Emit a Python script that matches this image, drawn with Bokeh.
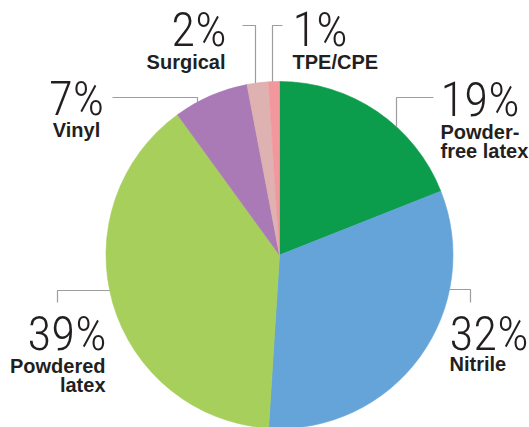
import math
from bokeh.plotting import figure
from bokeh.models import Range1d, ColumnDataSource
from bokeh.core.properties import value
from bokeh.embed import file_html
from bokeh.resources import INLINE

# ---- data ----
categories = ["Powder-free latex", "Nitrile", "Powdered latex", "Vinyl", "Surgical", "TPE/CPE"]
shares = [19, 32, 39, 7, 2, 1]
colors = ["#0b9d4b", "#64a4d8", "#a7cf5b", "#aa7ab6", "#deb2b0", "#f2979b"]
label_lines = [["Powder-", "free latex"], ["Nitrile"], ["Powdered", "latex"], ["Vinyl"], ["Surgical"], ["TPE/CPE"]]

# ---- layout (reference pixel coordinates, y downwards) ----
CX, CY, R = 279.0, 254.5, 173.5
layout = [
    dict(nx=440, ny=117, align="left",   ly=[139, 158], outer=(433, 97),  elbow=(396, 97),  seg="v"),
    dict(nx=449, ny=351, align="left",   ly=[371],      outer=(470, 302), elbow=(470, 289), seg="h"),
    dict(nx=106, ny=351, align="right",  ly=[373, 392], outer=(57, 302),  elbow=(57, 290),  seg="h"),
    dict(nx=76,  ny=116, align="center", ly=[137],      outer=(112, 97),  elbow=(197, 97),  seg="v"),
    dict(nx=226, ny=47,  align="right",  ly=[69],       outer=(242, 25),  elbow=(255, 25),  seg="v"),
    dict(nx=292, ny=47,  align="left",   ly=[69],       outer=(282, 25),  elbow=(272, 25),  seg="v"),
]

NUM_FONT = value("'Roboto Condensed Light', 'Roboto Condensed', sans-serif")
LAB_FONT = value("Liberation Sans")
NUM_SIZE = 49
LAB_SIZE = 20
BASE_FIX = 0.375  # renderer places alphabetic baseline this many em lower
INK = "#231f20"
LEADER = "#9d9d9d"

p = figure(width=529, height=427, x_range=Range1d(0, 529), y_range=Range1d(-427, 0),
           output_backend="svg", toolbar_location=None, x_axis_type=None, y_axis_type=None,
           min_border=0)
p.outline_line_color = None
p.grid.visible = False
p.background_fill_color = "white"
p.border_fill_color = "white"

# wedges: clockwise from 12 o'clock
total = float(sum(shares))
starts, ends = [], []
cum = 0.0
for s in shares:
    starts.append(math.pi / 2 - 2 * math.pi * (cum + s) / total)
    ends.append(math.pi / 2 - 2 * math.pi * cum / total)
    cum += s
src = ColumnDataSource(dict(cat=categories, share=shares, color=colors, start=starts, end=ends))
p.wedge(x=CX, y=-CY, radius=R, start_angle="start", end_angle="end", direction="anticlock",
        fill_color="color", line_color="color", line_width=0.6, source=src)

# leader lines
xs, ys = [], []
for L in layout:
    ox, oy = L["outer"]
    ex, ey = L["elbow"]
    if L["seg"] == "v":
        d = math.sqrt(max(R * R - (ex - CX) ** 2, 0))
        fx, fy = ex, (CY - d if ey < CY else CY + d)
    else:
        d = math.sqrt(max(R * R - (ey - CY) ** 2, 0))
        fx, fy = (CX + d if ex > CX else CX - d), ey
    xs.append([ox, ex, fx])
    ys.append([-oy, -ey, -fy])
p.multi_line(xs=xs, ys=ys, line_color=LEADER, line_width=1.2)

# labels
for s, lines, L in zip(shares, label_lines, layout):
    p.text(x=[L["nx"]], y=[-(L["ny"] - BASE_FIX * NUM_SIZE)], text=[f"{s}%"], text_align=L["align"],
           text_baseline="alphabetic", text_font=NUM_FONT, text_font_size=f"{NUM_SIZE}px",
           text_color=INK)
    lx = L["nx"] - (1 if L["align"] == "right" else 0)
    for line, by in zip(lines, L["ly"]):
        p.text(x=[lx], y=[-(by - BASE_FIX * LAB_SIZE)], text=[line], text_align=L["align"],
               text_baseline="alphabetic", text_font=LAB_FONT, text_font_style="bold",
               text_font_size=f"{LAB_SIZE}px", text_color=INK)

open("out.html", "w").write(file_html(p, INLINE))
